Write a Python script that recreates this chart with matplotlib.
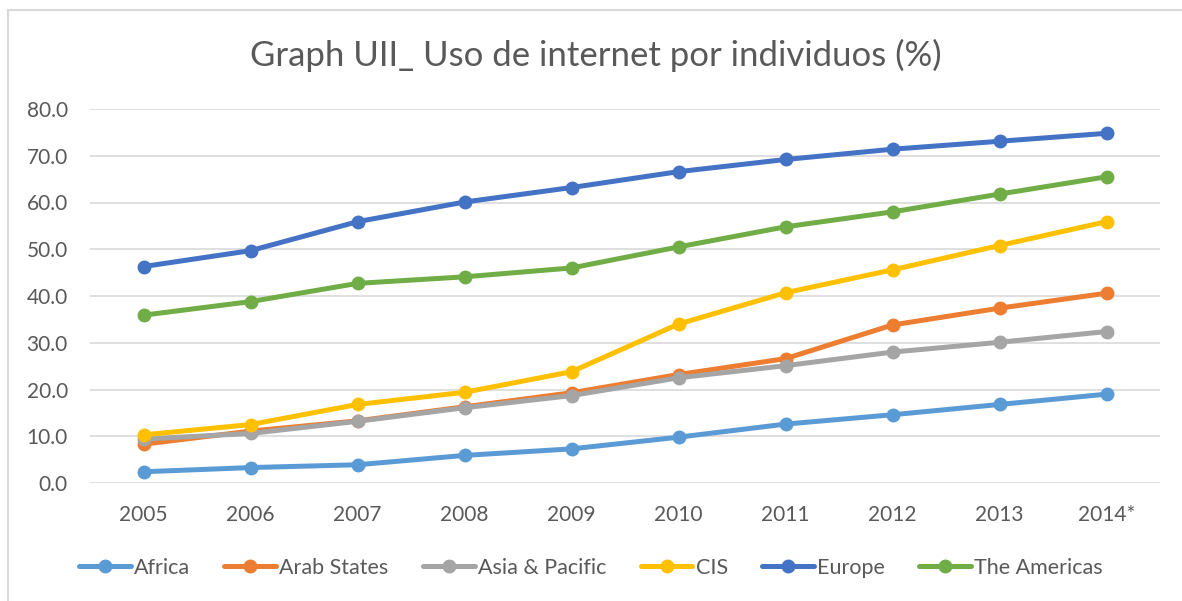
import matplotlib.pyplot as plt
from matplotlib.patches import Rectangle

# ---------------------------------------------------------------------------
# Data (ITU, individuals using the internet, %)
# ---------------------------------------------------------------------------

years = ['2005', '2006', '2007', '2008', '2009', '2010', '2011', '2012', '2013', '2014*']

africa   = [2.4, 3.3, 3.9, 5.9, 7.3, 9.8, 12.6, 14.6, 16.8, 19.0]
arab     = [8.3, 11.1, 13.3, 16.3, 19.3, 23.2, 26.6, 33.8, 37.4, 40.6]
asia     = [9.4, 10.6, 13.2, 16.1, 18.7, 22.5, 25.1, 28.0, 30.1, 32.4]
cis      = [10.3, 12.5, 16.8, 19.4, 23.8, 34.0, 40.7, 45.6, 50.8, 55.9]
europe   = [46.3, 49.7, 55.9, 60.1, 63.2, 66.6, 69.2, 71.4, 73.1, 74.8]
americas = [35.9, 38.8, 42.7, 44.1, 46.0, 50.5, 54.8, 58.0, 61.8, 65.5]

series_names = ['Africa', 'Arab States', 'Asia & Pacific', 'CIS', 'Europe', 'The Americas']
colors = ['#5B9BD5', '#ED7D31', '#A5A5A5', '#FFC000', '#4472C4', '#70AD47']

y_ticks = [0, 10, 20, 30, 40, 50, 60, 70, 80]

# ---------------------------------------------------------------------------
# Plot
# ---------------------------------------------------------------------------

plt.rcParams['font.family'] = ['Lato', 'DejaVu Sans']
text_color = '#595959'

fig = plt.figure(figsize=(11.82, 6.01), dpi=100)
ax = fig.add_axes([90 / 1182, 118 / 601, 1070 / 1182, 374 / 601])

x = list(range(len(years)))
for values, name, color in zip([africa, arab, asia, cis, europe, americas],
                               series_names, colors):
    ax.plot(x, values, color=color, lw=3.6, marker='o', markersize=9,
            label=name, solid_capstyle='round')

ax.set_xlim(-0.5, len(years) - 0.5)
ax.set_ylim(0, 80)
ax.set_yticks(y_ticks)
ax.set_yticklabels([f'{v:.1f}' for v in y_ticks])
ax.set_xticks(x)
ax.set_xticklabels(years)
ax.grid(axis='y', color='#D9D9D9', lw=1.2)
ax.set_axisbelow(True)
for s in ax.spines.values():
    s.set_visible(False)
ax.tick_params(length=0, labelsize=15, colors=text_color)
ax.tick_params(axis='x', pad=16)
ax.tick_params(axis='y', pad=16)

fig.text(596 / 1182, 1 - 55 / 601, 'Graph UII_ Uso de internet por individuos (%)',
         ha='center', va='center', fontsize=25, color=text_color)

fig.legend(loc='center', bbox_to_anchor=(0.5, 1 - 568 / 601), ncol=6,
           frameon=False, fontsize=15.5, handlelength=2.4, handletextpad=0.15,
           columnspacing=1.6, labelcolor=text_color)

# chart border
fig.patches.append(Rectangle((8 / 1182, -0.01), 1.0, 1 - 10 / 601 + 0.01,
                             transform=fig.transFigure, fill=False,
                             edgecolor='#D9D9D9', lw=1.5))

plt.savefig('out.png', dpi=100)
plt.close()
